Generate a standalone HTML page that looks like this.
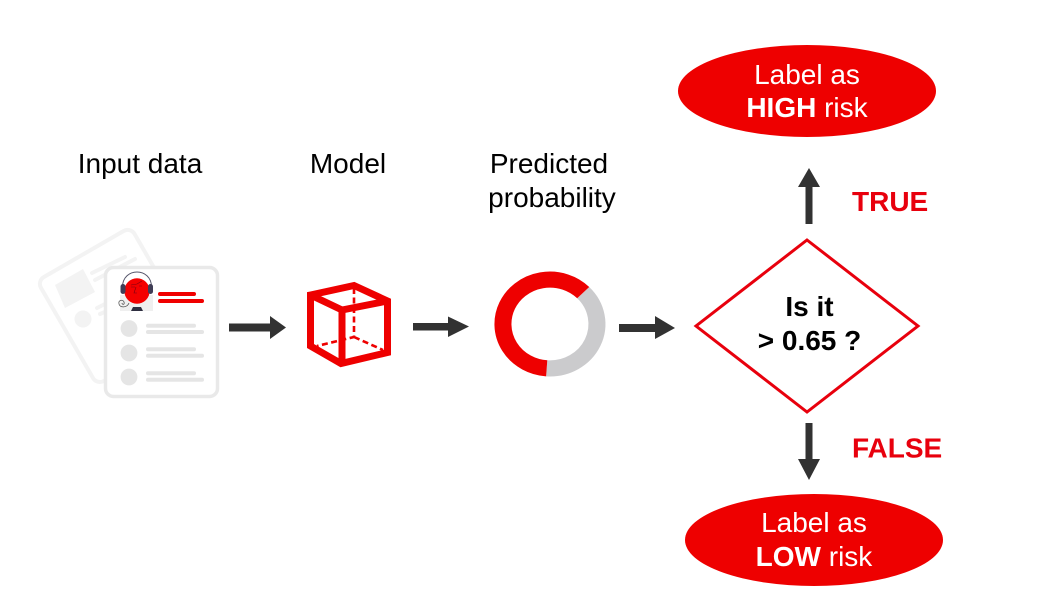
<!DOCTYPE html>
<html><head><meta charset="utf-8"><style>
html,body{margin:0;padding:0;background:#fff}
svg{display:block}
text{font-family:"Liberation Sans",sans-serif;fill:#000}
</style></head><body>
<svg width="1054" height="608" viewBox="0 0 1054 608" xmlns="http://www.w3.org/2000/svg">
<defs><filter id="b" x="-5%" y="-5%" width="110%" height="110%"><feGaussianBlur stdDeviation=".35"/></filter></defs>
<g filter="url(#b)">
<!-- back card -->
<rect x="0" y="0" width="108" height="120" rx="8" fill="#fff" stroke="#f3f3f3" stroke-width="4" transform="translate(37 281) rotate(-30)"/>
<polygon points="55,285 83,269 95,292 65,308" fill="#f3f3f3"/>
<circle cx="83" cy="319" r="8.500" fill="#f3f3f3"/>
<g stroke="#f3f3f3" stroke-width="4" stroke-linecap="round">
<path d="M92 273L125 257M95 280L135 259M97 308L107 303M100 314L107 311"/>
</g>
<!-- front card -->
<rect x="105.500" y="267.500" width="112" height="129" rx="8" fill="#fff" stroke="#e9e9e9" stroke-width="3.500"/>
<rect x="120" y="295" width="33" height="16" fill="#efefef"/>
<circle cx="137" cy="291" r="12.700" fill="#f40000"/>
<path d="M122.500 287C122.500 267 151.500 267 151.500 287" fill="none" stroke="#55556a" stroke-width="1"/>
<rect x="120.500" y="284" width="5" height="10" rx="2.500" fill="#3f3d56"/>
<rect x="148" y="284" width="5" height="10" rx="2.500" fill="#3f3d56"/>
<path d="M131 285l6-1 5-3M136 287l-2 6h3M131 287h4M139 286h3" fill="none" stroke="#7a0010" stroke-width=".6"/>
<path d="M131 311h12l-2-4h-8z" fill="#2f2e41"/>
<path d="M129 303c-2 5-9 5-10 1s4-5 5-2-2 3-2 1" fill="none" stroke="#555" stroke-width=".8"/>
<rect x="158" y="292" width="38" height="4" rx="2" fill="#f00000"/>
<rect x="158" y="299" width="46" height="4" rx="2" fill="#f00000"/>
<g fill="#e5e5e5">
<circle cx="129" cy="328.500" r="8.400"/><circle cx="129" cy="353" r="8.400"/><circle cx="129" cy="377" r="8.400"/>
<rect x="146" y="323.700" width="50" height="4" rx="2"/><rect x="146" y="330" width="58" height="4" rx="2"/>
<rect x="146" y="347.300" width="50" height="4" rx="2"/><rect x="146" y="353.700" width="58" height="4" rx="2"/>
<rect x="146" y="371.300" width="50" height="4" rx="2"/><rect x="146" y="377.700" width="58" height="4" rx="2"/>
</g>
<!-- cube -->
<g fill="none" stroke="#ee0000" stroke-linejoin="miter">
<path d="M354 288V337L317 346M354 337L383 350" stroke-width="2.600" stroke-dasharray="6 3.500"/>
<path d="M310.500 295L354 285.500L387.500 301V352.500L341 363.500L310.500 346Z" stroke-width="7"/>
<path d="M310.500 295L342 310L387.500 301M342 310V364" stroke-width="7"/>
</g>
<!-- donut -->
<g transform="translate(550 324) scale(1 .945)" fill="none" stroke-width="17">
<path d="M33.200 -33.200A47 47 0 0 1 -3.300 46.900" stroke="#cbcbcd"/>
<path d="M-3.300 46.900A47 47 0 1 1 33.200 -33.200" stroke="#ee0000"/>
</g>
<!-- arrows -->
<g fill="#333">
<path d="M229 323.500H270V316L286 327.500L270 339V331.500H229Z"/>
<path d="M413 323H448V316.500L469 326.500L448 337V330.500H413Z"/>
<path d="M619 324H655V316L675 328L655 339V332H619Z"/>
<path d="M805.500 224V187H798L809 168L820 187H812.500V224Z"/>
<path d="M805.500 423V459H798L809 480L820 459H812.500V423Z"/>
</g>
<!-- diamond -->
<polygon points="807,240 918,326 807,412 696,326" fill="#fff" stroke="#e8000b" stroke-width="3"/>
<!-- ellipses -->
<ellipse cx="807" cy="91" rx="129" ry="46" fill="#ee0000"/>
<ellipse cx="814" cy="540" rx="129" ry="46" fill="#ee0000"/>
<!-- text -->
<g font-size="28" text-anchor="middle">
<text x="140" y="173">Input data</text>
<text x="348" y="173">Model</text>
<text x="549" y="173">Predicted</text>
<text x="552" y="207">probability</text>
</g>
<g font-size="28" text-anchor="middle" font-weight="bold">
<text x="809.500" y="316">Is it</text>
<text x="809.500" y="350">&gt; 0.65 ?</text>
</g>
<g font-size="28" font-weight="bold">
<text x="852" y="211" style="fill:#e8000b">TRUE</text>
<text x="852" y="457.500" style="fill:#e8000b">FALSE</text>
</g>
<g font-size="28" text-anchor="middle">
<text x="807" y="84" style="fill:#fff">Label as</text>
<text x="807" y="117" style="fill:#fff"><tspan font-weight="bold">HIGH</tspan> risk</text>
<text x="814" y="532" style="fill:#fff">Label as</text>
<text x="814" y="566" style="fill:#fff"><tspan font-weight="bold">LOW</tspan> risk</text>
</g>
</g>
</svg>
</body></html>
